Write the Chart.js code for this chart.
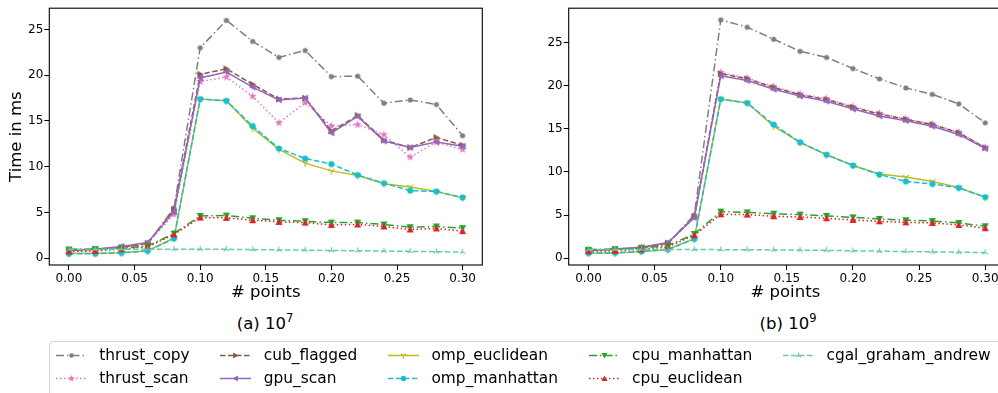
<!DOCTYPE html>
<html>
<head>
<meta charset="utf-8">
<script src="https://cdn.jsdelivr.net/npm/chart.js@4.4.0/dist/chart.umd.min.js"></script>
<style>
  body { margin: 0; width: 998px; height: 393px; overflow: hidden; background: #fff; position: relative; font-family: "DejaVu Sans", sans-serif; color: #000; }
  canvas.plot { position: absolute; top: 0; }
  .sub { position: absolute; top: 314px; font-size: 16.5px; transform: translateX(-50%); white-space: nowrap; }
  .sub sup { font-size: 11.5px; vertical-align: 7px; line-height: 0; }
  #legend { position: absolute; left: 49px; top: 341px; width: 990px; height: 70px; border: 1px solid #d5d5d5; border-radius: 4px; box-sizing: border-box;
            display: grid; grid-auto-flow: column; grid-template-rows: 18px 18px; grid-auto-columns: max-content; row-gap: 5.3px; column-gap: 30.8px; padding: 4px 0 0 6px; font-size: 15.4px; }
  .item { display: flex; align-items: center; height: 18px; white-space: nowrap; }
  .item canvas { margin-right: 12.3px; }
</style>
</head>
<body>
<canvas id="chartA" class="plot" width="490" height="310" style="left:0px"></canvas>
<canvas id="chartB" class="plot" width="482" height="310" style="left:520px"></canvas>
<div class="sub" style="left:265px">(a) 10<sup>7</sup></div>
<div class="sub" style="left:788px">(b) 10<sup>9</sup></div>
<div id="legend"></div>
<script>
// x positions (# points) and tick labels
const xValues = [0, 0.02, 0.04, 0.06, 0.08, 0.10, 0.12, 0.14, 0.16, 0.18, 0.20, 0.22, 0.24, 0.26, 0.28, 0.30];
const xTicks = [0, 0.05, 0.10, 0.15, 0.20, 0.25, 0.30];
const yTicks = [0, 5, 10, 15, 20, 25];

const seriesNames = ["thrust_copy", "thrust_scan", "cub_flagged", "gpu_scan", "omp_euclidean",
                     "omp_manhattan", "cpu_manhattan", "cpu_euclidean", "cgal_graham_andrew"];

// (a) 10^7
const thrustCopyA   = [1.0, 1.0, 1.2, 1.6, 5.5, 23.0, 26.0, 23.7, 21.95, 22.7, 19.85, 19.9, 16.95, 17.3, 16.8, 13.4];
const thrustScanA   = [0.85, 0.95, 1.2, 1.6, 4.8, 19.3, 19.8, 17.7, 14.8, 17.0, 14.45, 14.6, 13.5, 11.05, 12.7, 11.9];
const cubFlaggedA   = [0.9, 0.95, 1.2, 1.65, 5.3, 20.1, 20.7, 19.0, 17.4, 17.5, 13.9, 15.6, 12.9, 12.1, 13.2, 12.35];
const gpuScanA      = [0.85, 1.0, 1.3, 1.74, 5.07, 19.7, 20.35, 18.7, 17.3, 17.5, 13.7, 15.5, 12.8, 12.1, 12.7, 12.25];
const ompEuclideanA = [0.55, 0.55, 0.6, 0.83, 2.2, 17.4, 17.2, 14.2, 11.9, 10.4, 9.55, 9.05, 8.15, 7.8, 7.3, 6.6];
const ompManhattanA = [0.5, 0.5, 0.6, 0.8, 2.17, 17.4, 17.2, 14.45, 12.0, 10.9, 10.3, 9.1, 8.2, 7.4, 7.3, 6.65];
const cpuManhattanA = [0.95, 1.0, 1.1, 1.35, 2.7, 4.63, 4.67, 4.38, 4.16, 4.05, 3.9, 3.9, 3.7, 3.4, 3.48, 3.3];
const cpuEuclideanA = [0.75, 0.8, 1.0, 1.25, 2.6, 4.45, 4.42, 4.16, 3.98, 3.9, 3.65, 3.7, 3.48, 3.15, 3.26, 2.97];
const cgalA         = [0.98, 0.98, 1.0, 1.0, 1.0, 1.0, 0.98, 0.95, 0.92, 0.9, 0.85, 0.83, 0.8, 0.76, 0.72, 0.68];

// (b) 10^9
const thrustCopyB   = [1.0, 1.05, 1.2, 1.7, 5.0, 27.65, 26.8, 25.4, 24.0, 23.3, 22.0, 20.8, 19.75, 19.0, 17.9, 15.7];
const thrustScanB   = [0.9, 1.0, 1.2, 1.7, 4.7, 21.55, 20.9, 19.9, 19.05, 18.5, 17.6, 16.8, 16.15, 15.55, 14.6, 12.85];
const cubFlaggedB   = [0.9, 1.0, 1.2, 1.75, 4.8, 21.4, 20.8, 19.8, 18.95, 18.4, 17.5, 16.7, 16.1, 15.5, 14.55, 12.8];
const gpuScanB      = [0.85, 1.05, 1.25, 1.8, 4.7, 21.15, 20.6, 19.6, 18.8, 18.2, 17.3, 16.5, 15.95, 15.3, 14.35, 12.7];
const ompEuclideanB = [0.6, 0.6, 0.77, 1.0, 2.25, 18.45, 18.0, 15.3, 13.4, 12.0, 10.75, 9.75, 9.4, 8.9, 8.2, 7.05];
const ompManhattanB = [0.58, 0.6, 0.77, 1.0, 2.23, 18.45, 18.0, 15.5, 13.45, 12.0, 10.75, 9.7, 8.9, 8.6, 8.15, 7.08];
const cpuManhattanB = [0.95, 1.0, 1.15, 1.45, 2.8, 5.4, 5.3, 5.15, 5.05, 4.9, 4.73, 4.55, 4.4, 4.3, 4.08, 3.7];
const cpuEuclideanB = [0.8, 0.85, 1.0, 1.3, 2.65, 5.08, 5.05, 4.85, 4.77, 4.62, 4.43, 4.27, 4.15, 4.08, 3.85, 3.47];
const cgalB         = [1.0, 1.0, 1.0, 1.0, 1.0, 0.98, 0.97, 0.95, 0.93, 0.9, 0.85, 0.8, 0.76, 0.72, 0.68, 0.65];

const valuesA = [thrustCopyA, thrustScanA, cubFlaggedA, gpuScanA, ompEuclideanA, ompManhattanA, cpuManhattanA, cpuEuclideanA, cgalA];
const valuesB = [thrustCopyB, thrustScanB, cubFlaggedB, gpuScanB, ompEuclideanB, ompManhattanB, cpuManhattanB, cpuEuclideanB, cgalB];

// styles (matplotlib look)
const DASHDOT = [8, 3, 1.5, 3], DASHED = [5.5, 2.5], DOTTED = [1.5, 2.5];
const styles = [
  { color: "#7f7f7f", dash: DASHDOT, marker: "o", size: 2.6 },
  { color: "#e377c2", dash: DOTTED,  marker: "*", size: 4.2 },
  { color: "#8c564b", dash: DASHED,  marker: ">", size: 3.6 },
  { color: "#9467bd", dash: [],      marker: "<", size: 3.6 },
  { color: "#bcbd22", dash: [],      marker: "1", size: 3.8 },
  { color: "#17becf", dash: DASHED,  marker: "o", size: 3.1 },
  { color: "#2ca02c", dash: DASHDOT, marker: "v", size: 3.6 },
  { color: "#d62728", dash: DOTTED,  marker: "^", size: 3.6 },
  { color: "#66cdaa", dash: DASHED,  marker: "2", size: 3.2 }
];

function drawMarker(g, kind, x, y, r, color) {
  g.fillStyle = color;
  g.strokeStyle = color;
  g.lineWidth = 1.2;
  g.setLineDash([]);
  g.beginPath();
  if (kind === "o") {
    g.arc(x, y, r, 0, Math.PI * 2);
    g.fill();
  } else if (kind === "*") {
    for (let i = 0; i < 10; i++) {
      const a = -Math.PI / 2 + i * Math.PI / 5;
      const rr = i % 2 ? r * 0.42 : r;
      g.lineTo(x + rr * Math.cos(a), y + rr * Math.sin(a));
    }
    g.closePath();
    g.fill();
  } else if ("^>v<".includes(kind)) {
    const rot = { "^": 0, ">": 90, "v": 180, "<": 270 }[kind] * Math.PI / 180;
    [[0, -r], [-r, r * 0.8], [r, r * 0.8]].forEach(([px, py]) => {
      g.lineTo(x + px * Math.cos(rot) - py * Math.sin(rot), y + px * Math.sin(rot) + py * Math.cos(rot));
    });
    g.closePath();
    g.fill();
  } else {
    const base = kind === "1" ? Math.PI / 2 : -Math.PI / 2;
    for (let k = 0; k < 3; k++) {
      const a = base + k * 2 * Math.PI / 3;
      g.moveTo(x, y);
      g.lineTo(x + r * Math.cos(a), y + r * Math.sin(a));
    }
    g.stroke();
  }
}

function markerCanvas(st) {
  const s = Math.ceil(st.size * 2 + 4);
  const c = document.createElement("canvas");
  c.width = s; c.height = s;
  drawMarker(c.getContext("2d"), st.marker, s / 2, s / 2, st.size, st.color);
  return c;
}
const markers = styles.map(markerCanvas);

// full box around the plot area
const framePlugin = {
  id: "frame",
  afterDraw(chart) {
    const a = chart.chartArea, ctx = chart.ctx;
    ctx.save();
    ctx.strokeStyle = "#000";
    ctx.lineWidth = 1.1;
    ctx.strokeRect(a.left, a.top, a.right - a.left, a.bottom - a.top);
    ctx.restore();
  }
};

function makeChart(id, values, yMin, yMax, xMax, yWidth, padTop, padRight, showYTitle) {
  const datasets = values.map((vals, i) => ({
    label: seriesNames[i],
    data: vals.map((v, j) => ({ x: xValues[j], y: v })),
    borderColor: styles[i].color,
    backgroundColor: styles[i].color,
    borderWidth: 1.5,
    borderDash: styles[i].dash,
    pointStyle: markers[i],
    pointRadius: styles[i].size,
    tension: 0,
    order: 20 - i
  }));
  return new Chart(document.getElementById(id), {
    type: "line",
    data: { datasets },
    options: {
      responsive: false,
      animation: false,
      layout: { padding: { top: padTop, right: padRight, left: 0, bottom: 0 }, autoPadding: false },
      plugins: { legend: { display: false }, tooltip: { enabled: false } },
      scales: {
        x: {
          type: "linear", min: -0.015, max: xMax,
          afterBuildTicks: s => { s.ticks = xTicks.map(v => ({ value: v })); },
          afterFit: s => { s.height = 45; },
          border: { display: false },
          grid: { drawOnChartArea: false, drawTicks: true, tickLength: 5, tickColor: "#000", tickWidth: 1 },
          ticks: { color: "#000", padding: 2, maxRotation: 0, font: { family: "DejaVu Sans", size: 12 }, callback: v => v.toFixed(2) },
          title: { display: true, text: "# points", color: "#000", font: { family: "DejaVu Sans", size: 16.5 }, padding: { top: 0, bottom: 7 } }
        },
        y: {
          type: "linear", min: yMin, max: yMax,
          afterBuildTicks: s => { s.ticks = yTicks.map(v => ({ value: v })); },
          afterFit: s => { s.width = yWidth; },
          border: { display: false },
          grid: { drawOnChartArea: false, drawTicks: true, tickLength: 5, tickColor: "#000", tickWidth: 1 },
          ticks: { color: "#000", padding: 1, font: { family: "DejaVu Sans", size: 12 }, callback: v => String(v) },
          title: { display: showYTitle, text: "Time in ms", color: "#000", font: { family: "DejaVu Sans", size: 16.5 }, padding: { top: 7, bottom: 0 } }
        }
      }
    },
    plugins: [framePlugin]
  });
}

makeChart("chartA", valuesA, -0.73, 27.32, 0.315, 49.3, 7, 7.7, true);
makeChart("chartB", valuesB, -0.8, 29.0, 0.3127, 48.7, 7.3, 0, false);

// legend (column-major, 2 rows)
const legend = document.getElementById("legend");
seriesNames.forEach((name, i) => {
  const item = document.createElement("div");
  item.className = "item";
  const c = document.createElement("canvas");
  c.width = 31; c.height = 18;
  const g = c.getContext("2d");
  g.strokeStyle = styles[i].color;
  g.lineWidth = 1.5;
  g.setLineDash(styles[i].dash);
  g.beginPath();
  g.moveTo(0, 9.5);
  g.lineTo(31, 9.5);
  g.stroke();
  drawMarker(g, styles[i].marker, 15.5, 9.5, styles[i].size * 0.85, styles[i].color);
  item.appendChild(c);
  const t = document.createElement("span");
  t.textContent = name;
  item.appendChild(t);
  legend.appendChild(item);
});
</script>
</body>
</html>
